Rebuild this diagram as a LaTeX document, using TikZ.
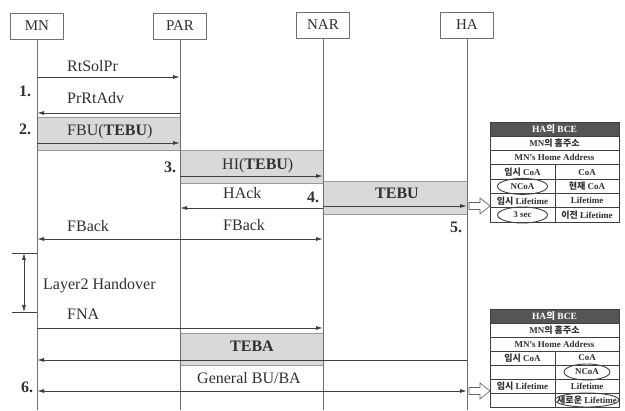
\documentclass[tikz,border=0pt]{standalone}
\usepackage{fontspec}
\setmainfont{Liberation Serif}
\newfontfamily\kr{Noto Sans CJK KR}
\usetikzlibrary{arrows.meta}
\definecolor{ln}{HTML}{404040}
\definecolor{lifec}{HTML}{707070}
\definecolor{boxg}{HTML}{D9D9D9}
\definecolor{boxd}{HTML}{9A9A9A}
\definecolor{hdr}{HTML}{555555}
\definecolor{txt}{HTML}{303030}
\begin{document}
\begin{tikzpicture}[x=1pt,y=-1pt,
 actor/.style={draw=lifec, line width=0.8pt, minimum width=53pt, minimum height=26pt, inner sep=0pt, font=\fontsize{15}{15}\selectfont, text=txt},
 lifeln/.style={draw=lifec, line width=0.7pt},
 tip/.tip={Latex[length=7pt,width=4pt]},
 msg/.style={draw=ln, line width=0.9pt, -tip},
 dmsg/.style={draw=ln, line width=0.9pt, tip-tip},
 plain/.style={draw=ln, line width=0.9pt},
 lbl/.style={font=\fontsize{16}{16}\selectfont, text=txt, inner sep=0pt, anchor=base west},
 clbl/.style={font=\fontsize{16}{16}\selectfont, text=txt, inner sep=0pt, anchor=base},
 num/.style={font=\bfseries\fontsize{16}{16}\selectfont, text=txt, inner sep=0pt, anchor=base west},
 gbox/.style={fill=boxg, draw=boxd, line width=0.8pt},
 cell/.style={font=\bfseries\fontsize{9}{9}\selectfont, text=txt, inner sep=0pt},
 hcell/.style={font=\bfseries\fontsize{9.5}{9.5}\selectfont, text=white, inner sep=0pt},
 tline/.style={draw=black!75, line width=0.8pt},
 hollow/.style={draw=black!60, fill=white, line width=0.7pt},
 circ/.style={draw=black!75, line width=0.9pt},
]
\useasboundingbox (0,0) rectangle (625,411);

% actors
\node[actor] (mn) at (37,26) {MN};
\node[actor] (par) at (180,26) {PAR};
\node[actor] (nar) at (323,25) {NAR};
\node[actor] (ha) at (467,25) {HA};
\coordinate (mnb) at (37,410);
\coordinate (parb) at (180,410);
\coordinate (narb) at (323,410);
\coordinate (hab) at (467,410);

% grey boxes
\draw[gbox] (mn |- 0,117) rectangle (par |- 0,150);
\draw[gbox] (par |- 0,150) rectangle (nar |- 0,183);
\draw[gbox] (nar |- 0,181) rectangle (ha |- 0,214);
\draw[gbox] (par |- 0,333) rectangle (nar |- 0,365);

% lifelines
\draw[lifeln] (mn) -- (mnb);
\draw[lifeln] (par) -- (parb);
\draw[lifeln] (nar) -- (narb);
\draw[lifeln] (ha) -- (hab);

% messages
\draw[msg] (mn |- 0,77) -- (par |- 0,77);
\node[lbl] (l1) at (67,72) {RtSolPr};
\node[num] (n1) at (19,97) {1.};
\draw[msg] (par |- 0,113) -- (mn |- 0,113);
\node[lbl] (l2) at (67,104) {PrRtAdv};
\node[num] (n2) at (19,135) {2.};
\draw[msg] (mn |- 0,143) -- (par |- 0,143);
\node[lbl] (l3) at (67,136) {FBU(\textbf{TEBU})};
\node[num] (n3) at (164,173) {3.};
\draw[msg] (par |- 0,176) -- (nar |- 0,176);
\node[lbl] (l4) at (222,170) {HI(\textbf{TEBU})};
\draw[msg] (nar |- 0,208) -- (par |- 0,208);
\node[lbl] (l5) at (223,199) {HAck};
\node[num] (n4) at (307,203) {4.};
\draw[msg] (nar |- 0,206) -- (ha |- 0,206);
\node[clbl] (l6) at (397,199) {\textbf{TEBU}};
\draw[dmsg] (mn |- 0,239) -- (nar |- 0,239);
\node[lbl] (l7) at (67,232) {FBack};
\node[lbl] (l8) at (223,231) {FBack};
\node[num] (n5) at (450,233) {5.};

% layer 2 handover
\coordinate (l2t) at (12,253);
\coordinate (l2b) at (12,312);
\draw[plain, line width=0.7pt] (l2t) -- (mn |- l2t);
\draw[plain, line width=0.7pt] (l2b) -- (mn |- l2b);
\draw[dmsg, line width=0.7pt] ([xshift=12pt]l2t) -- ([xshift=12pt]l2b);
\node[lbl] (l9) at (43,290) {Layer2 Handover};

\draw[msg] (mn |- 0,328) -- (nar |- 0,328);
\node[lbl] (l10) at (67,320) {FNA};
\draw[msg] (ha |- 0,360) -- (mn |- 0,360);
\node[clbl] (l11) at (252,352) {\textbf{TEBA}};
\draw[dmsg] (mn |- 0,391) -- (ha |- 0,391);
\node[lbl] (l12) at (197,384) {General BU/BA};
\node[num] (n6) at (21,393) {6.};

% hollow arrows
\draw[hollow] (469,202.5) -- (480,202.5) -- (480,198) -- (490,206) -- (480,214) -- (480,209.5) -- (469,209.5) -- cycle;
\draw[hollow] (469,387.5) -- (480,387.5) -- (480,383) -- (490,391) -- (480,399) -- (480,394.5) -- (469,394.5) -- cycle;

% table 1
\fill[hdr] (490,122) rectangle (619,136.3);
\draw[tline] (490,122) rectangle (619,222.1);
\foreach \yy in {136.3,150.6,164.9,179.2,193.5,207.8} \draw[tline] (490,\yy) -- (619,\yy);
\draw[tline] (555,164.9) -- (555,222.1);
\node[hcell] (a0) at (554.5,129.2) {HA{\kr 의} BCE};
\node[cell] (a1) at (554.5,143.5) {MN{\kr 의 홈주소}};
\node[cell] (a2) at (554.5,157.8) {MN's Home Address};
\node[cell] (a3) at (522.5,172.1) {{\kr 임시} CoA};
\node[cell] (a4) at (587,172.1) {CoA};
\node[cell] (a5) at (522.5,186.4) {NCoA};
\node[cell] (a6) at (587,186.4) {{\kr 현재} CoA};
\node[cell] (a7) at (522.5,200.7) {{\kr 임시} Lifetime};
\node[cell] (a8) at (587,200.7) {Lifetime};
\node[cell] (a9) at (522.5,215) {3 sec};
\node[cell] (a10) at (587,215) {{\kr 이전} Lifetime};
\draw[circ] (a5) ellipse (25 and 8);
\draw[circ] (a9) ellipse (25 and 8);

% table 2
\fill[hdr] (490,309) rectangle (619,323);
\draw[tline] (490,309) rectangle (619,407);
\foreach \yy in {323,337,351,365,379,393} \draw[tline] (490,\yy) -- (619,\yy);
\draw[tline] (555,351) -- (555,407);
\node[hcell] (b0) at (554.5,316) {HA{\kr 의} BCE};
\node[cell] (b1) at (554.5,330) {MN{\kr 의 홈주소}};
\node[cell] (b2) at (554.5,344) {MN's Home Address};
\node[cell] (b3) at (522.5,358) {{\kr 임시} CoA};
\node[cell] (b4) at (587,358) {CoA};
\node[cell] (b6) at (587,372) {NCoA};
\node[cell] (b7) at (522.5,386) {{\kr 임시} Lifetime};
\node[cell] (b8) at (587,386) {Lifetime};
\node[cell] (b10) at (587,400) {{\kr 새로운} Lifetime};
\draw[circ] (b6) ellipse (23 and 8);
\draw[circ] (b10) ellipse (32 and 7);
\end{tikzpicture}
\end{document}
